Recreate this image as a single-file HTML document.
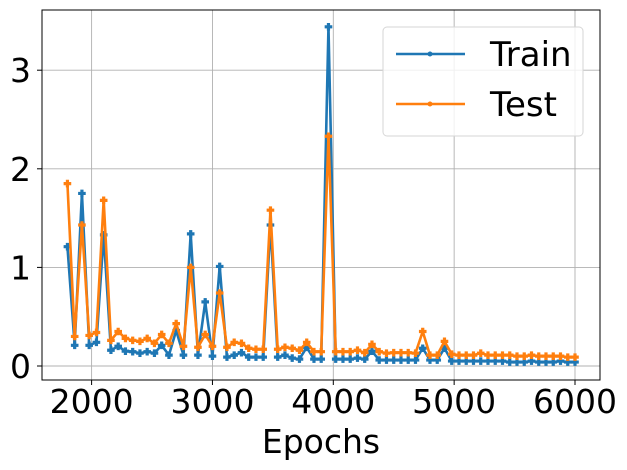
<!DOCTYPE html>
<html><head><meta charset="utf-8"><style>
html,body{margin:0;padding:0;background:#fff;}
svg{display:block;font-family:"DejaVu Sans","Liberation Sans",sans-serif;}
</style></head><body>
<svg id="chart" width="627" height="470" viewBox="0 0 627 470"></svg>
<script>
const epochs = [];
for (let e = 1800; e <= 6000; e += 60) epochs.push(e);
const trainLoss = [1.21,0.21,1.75,0.21,0.24,1.33,0.16,0.20,0.15,0.145,0.13,0.145,0.13,0.21,0.11,0.36,0.11,1.34,0.11,0.65,0.10,1.01,0.09,0.11,0.135,0.09,0.09,0.09,1.43,0.09,0.11,0.08,0.07,0.19,0.07,0.07,3.44,0.07,
0.07,0.07,0.08,0.07,0.15,0.06,0.06,0.06,0.06,0.06,0.06,0.18,0.06,0.06,0.18,0.05,0.05,0.05,0.05,0.05,0.05,0.05,0.05,0.04,0.04,0.04,0.05,0.04,0.04,0.04,0.05,0.04,0.04];
const testLoss = [1.85,0.30,1.43,0.31,0.34,1.68,0.26,0.35,0.28,0.26,0.25,0.28,0.23,0.32,0.23,0.43,0.20,1.00,0.19,0.32,0.20,0.74,0.19,0.24,0.23,0.18,0.17,0.17,1.58,0.17,0.19,0.18,0.16,0.24,0.145,0.145,2.33,0.145,
0.145,0.145,0.16,0.135,0.22,0.145,0.13,0.135,0.135,0.135,0.13,0.35,0.11,0.11,0.25,0.12,0.11,0.11,0.11,0.13,0.11,0.11,0.11,0.11,0.10,0.10,0.11,0.10,0.10,0.10,0.10,0.09,0.09];
const xTicks = [2000,3000,4000,5000,6000];
const yTicks = [0,1,2,3];

const NS = "http://www.w3.org/2000/svg";
const svg = document.getElementById('chart');
const L=42,R=600,T=10,B=380;
const x = e => 91.6 + (e-2000)*0.12085;
const y = v => 366 - v*98.6;
function mk(tag, attrs, parent){const el=document.createElementNS(NS,tag);for(const k in attrs)el.setAttribute(k,attrs[k]);(parent||svg).appendChild(el);return el;}

const grid = mk('g',{});


xTicks.forEach(t=>{
  const g=mk('line',{x1:x(t),x2:x(t),y1:T,y2:B,stroke:'#b0b0b0','stroke-width':0.9},grid);
  
  
  const tk=mk('line',{x1:x(t),x2:x(t),y1:B,y2:B+5,stroke:'#000','stroke-width':1});
  
  
  const tx=mk('text',{x:x(t),y:413,'font-size':33,'text-anchor':'middle',fill:'#000'});
  tx.textContent=t;
  
  
});
yTicks.forEach(t=>{
  const g=mk('line',{x1:L,x2:R,y1:y(t),y2:y(t),stroke:'#b0b0b0','stroke-width':0.9},grid);
  
  
  const tk=mk('line',{x1:L-5,x2:L,y1:y(t),y2:y(t),stroke:'#000','stroke-width':1});
  
  
  const tx=mk('text',{x:31,y:y(t)+12,'font-size':33,'text-anchor':'end',fill:'#000'});
  tx.textContent=t;
  
  
});

function series(vals,color,name){
  const g=mk('g',{});
  
  
  const pts=vals.map((v,i)=>x(epochs[i])+','+y(v)).join(' ');
  const pl=mk('polyline',{points:pts,fill:'none',stroke:color,'stroke-width':2.6,'stroke-linejoin':'round'},g);
  
  
  vals.forEach((v,i)=>{
    const cx=x(epochs[i]),cy=y(v);
    const m=mk('path',{d:`M${cx-1.3},${cy-3.5}h2.6v2.2h2.2v2.6h-2.2v2.2h-2.6v-2.2h-2.2v-2.6h2.2z`,fill:color,stroke:color,'stroke-width':0.6},g);
    
    
  });
}
series(trainLoss,'#1f77b4','train');
series(testLoss,'#ff7f0e','test');

const frame=mk('rect',{x:L,y:T,width:R-L,height:B-T,fill:'none',stroke:'#000','stroke-width':1});



const xl=mk('text',{x:321,y:453,'font-size':33,'text-anchor':'middle',fill:'#000'});
xl.textContent='Epochs';



const lg=mk('g',{});


mk('rect',{x:383,y:27,width:200,height:109,rx:4,fill:'rgba(255,255,255,0.8)',stroke:'#d6d6d6','stroke-width':1},lg);
[['Train','#1f77b4',54],['Test','#ff7f0e',104]].forEach(([lab,c,yy])=>{
  const e=mk('g',{},lg);
  
  
  mk('line',{x1:396,x2:465,y1:yy,y2:yy,stroke:c,'stroke-width':2.6},e);
  mk('circle',{cx:430,cy:yy,r:2.5,fill:c},e);
  const t=mk('text',{x:490,y:yy+12,'font-size':34,fill:'#000'},e);
  t.textContent=lab;
});
</script>
</body></html>
